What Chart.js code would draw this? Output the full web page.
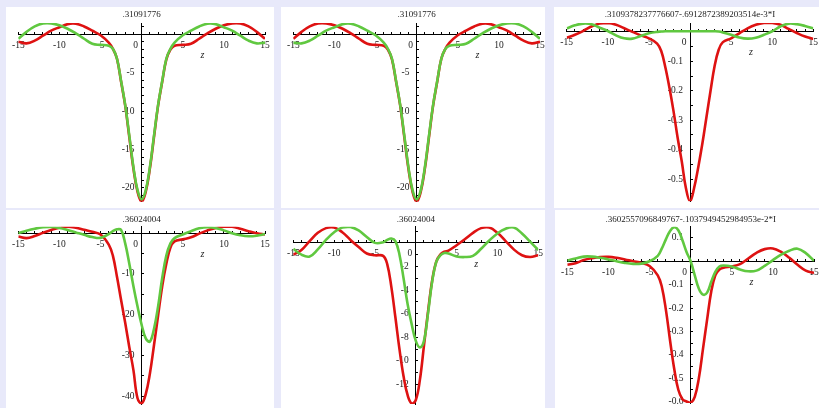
<!DOCTYPE html>
<html>
<head>
<meta charset="utf-8">
<script src="https://cdn.jsdelivr.net/npm/chart.js@4/dist/chart.umd.min.js"></script>
<style>
  html, body { margin: 0; padding: 0; background: #e8e9fa; }
  #grid { position: relative; width: 819px; height: 408px; overflow: hidden; background: #e8e9fa; }
  #grid canvas { position: absolute; background: #fff; }
</style>
</head>
<body>
<div id="grid"></div>
<script>
// sample points along z (shared by every panel)
const zValues = [-15, -14, -13, -12, -11, -10, -9, -8, -7, -6, -5, -4,
  -3.5, -3, -2.5, -2, -1.5, -1, -0.5, 0, 0.5, 1, 1.5, 2, 2.5, 3, 3.5,
  4, 5, 6, 7, 8, 9, 10, 11, 12, 13, 14, 15];

const titles = [
  '.31091776',
  '.31091776',
  '.3109378237776607-.6912872389203514e-3*I',
  '.36024004',
  '.36024004',
  '.3602557096849767-.1037949452984953e-2*I'
];

// panel 1 (top left)
const p1Red = [-1.0, -1.2, -0.85, -0.2, 0.45, 0.9, 1.3, 1.35, 1.0, 0.45, -0.15, -1.1,
  -1.9, -3.2, -6.2, -9.3, -13.4, -17.5, -20.5, -21.8, -20.5, -17.5, -13.4, -9.3, -6.2, -3.3, -2.0,
  -1.5, -1.4, -1.25, -0.6, 0.1, 0.7, 1.15, 1.4, 1.4, 1.0, 0.3, -0.6];
const p1Green = [-0.6, 0.3, 1.0, 1.4, 1.4, 1.15, 0.7, 0.1, -0.6, -1.25, -1.4, -1.5,
  -1.9, -3.2, -6.1, -9.2, -13.2, -17.3, -20.3, -21.5, -20.3, -17.3, -13.2, -9.2, -6.1, -3.2, -1.9,
  -1.1, -0.15, 0.45, 1.0, 1.35, 1.3, 0.9, 0.45, -0.2, -0.85, -1.2, -1.1];

// panel 2 (top middle)
const p2Red = [-0.6, 0.3, 1.0, 1.4, 1.4, 1.15, 0.7, 0.1, -0.6, -1.25, -1.4, -1.5,
  -2.0, -3.3, -6.2, -9.3, -13.4, -17.5, -20.5, -21.8, -20.5, -17.5, -13.4, -9.3, -6.2, -3.2, -1.9,
  -1.1, -0.15, 0.45, 1.0, 1.35, 1.3, 0.9, 0.45, -0.2, -0.85, -1.2, -1.0];
const p2Green = [-1.1, -1.2, -0.85, -0.2, 0.45, 0.9, 1.3, 1.35, 1.0, 0.45, -0.15, -1.1,
  -1.9, -3.2, -6.1, -9.2, -13.2, -17.3, -20.3, -21.5, -20.3, -17.3, -13.2, -9.2, -6.1, -3.2, -1.9,
  -1.5, -1.4, -1.25, -0.6, 0.1, 0.7, 1.15, 1.4, 1.4, 1.0, 0.3, -0.6];

// panel 3 (top right)
const p3Red = [-0.02, -0.01, 0.003, 0.018, 0.028, 0.03, 0.024, 0.012, 0.0, -0.012, -0.022, -0.04,
  -0.065, -0.12, -0.19, -0.27, -0.36, -0.44, -0.53, -0.575, -0.53, -0.46, -0.38, -0.29, -0.2, -0.115, -0.06,
  -0.035, -0.022, -0.005, 0.012, 0.024, 0.03, 0.03, 0.024, 0.01, -0.004, -0.016, -0.024];
const p3Green = [0.012, 0.022, 0.028, 0.026, 0.014, 0.003, -0.012, -0.022, -0.023, -0.014, -0.005, 0.0,
  0.001, 0.002, 0.002, 0.002, 0.002, 0.002, 0.002, 0.002, 0.002, 0.002, 0.002, 0.002, 0.002, 0.002, 0.001,
  -0.002, -0.01, -0.019, -0.023, -0.02, -0.01, 0.002, 0.018, 0.028, 0.026, 0.02, 0.012];

// panel 4 (bottom left)
const p4Red = [-0.8, -1.2, -0.7, 0.1, 0.8, 1.35, 1.6, 1.35, 0.85, 0.35, -0.3, -2.8,
  -5.5, -10.7, -16.4, -22.0, -28.0, -33.6, -40.5, -41.8, -39.5, -34.5, -27.5, -20.2, -13.0, -7.5, -3.5,
  -2.0, -1.5, -1.0, -0.1, 0.7, 1.3, 1.6, 1.6, 1.1, 0.5, 0.0, -0.3];
const p4Green = [0.0, 0.6, 1.1, 1.45, 1.55, 1.3, 0.8, 0.2, -0.4, -0.95, -1.15, -0.2,
  0.5, 0.95, 0.8, -2.5, -7.5, -13.0, -18.0, -22.5, -25.8, -26.6, -23.5, -18.0, -11.0, -5.5, -2.5,
  -1.2, -0.3, 0.5, 1.2, 1.5, 1.3, 0.7, 0.0, -0.5, -0.75, -0.6, -0.2];

// panel 5 (bottom middle)
const p5Red = [-1.0, -0.6, 0.15, 0.85, 1.25, 1.3, 0.9, 0.25, -0.35, -0.9, -1.05, -1.1,
  -1.8, -3.7, -6.3, -9.0, -11.3, -12.9, -13.6, -13.3, -11.6, -8.7, -5.8, -3.2, -1.6, -1.0, -0.75,
  -0.65, -0.2, 0.3, 0.85, 1.25, 1.3, 0.85, 0.15, -0.55, -1.05, -1.2, -1.05];
const p5Green = [-0.5, -1.0, -1.15, -0.55, 0.25, 0.9, 1.3, 1.35, 1.05, 0.5, 0.0, 0.05,
  0.25, 0.37, 0.15, -1.0, -3.0, -5.2, -6.9, -8.3, -8.85, -8.3, -5.95, -3.3, -1.6, -1.05, -0.85,
  -0.9, -1.15, -1.2, -1.1, -0.5, 0.2, 0.8, 1.2, 1.3, 0.8, 0.1, -0.6];

// panel 6 (bottom right)
const p6Red = [-0.015, -0.008, 0.005, 0.013, 0.018, 0.019, 0.015, 0.008, 0.0, -0.007, -0.02, -0.06,
  -0.11, -0.21, -0.34, -0.46, -0.55, -0.59, -0.6, -0.605, -0.58, -0.5, -0.375, -0.25, -0.13, -0.06, -0.035,
  -0.028, -0.022, -0.012, 0.012, 0.036, 0.052, 0.055, 0.04, 0.015, -0.015, -0.04, -0.05];
const p6Green = [0.003, 0.012, 0.02, 0.02, 0.015, 0.008, 0.0, -0.007, -0.011, -0.01, 0.0, 0.023,
  0.055, 0.095, 0.13, 0.146, 0.133, 0.09, 0.04, 0.0, -0.06, -0.118, -0.143, -0.134, -0.088, -0.045, -0.022,
  -0.018, -0.022, -0.035, -0.043, -0.04, -0.02, 0.005, 0.028, 0.045, 0.054, 0.035, 0.002];

// y axis ranges / tick steps per panel
const yMins   = [-21.8, -21.8, -0.575, -42, -13.65, -0.607];
const yMaxs   = [1.45, 1.45, 0.03, 1.6, 1.37, 0.148];
const yMinor  = [1, 1, 0.05, 5, 1, 0.05];
const yMajor  = [5, 5, 0.1, 10, 2, 0.1];

const reds   = [p1Red, p2Red, p3Red, p4Red, p5Red, p6Red];
const greens = [p1Green, p2Green, p3Green, p4Green, p5Green, p6Green];

// where each panel sits on the page
const boxes = [
  { left: 6,   top: 7,   width: 268, height: 201, pad: { left: 12.3, right: 9,   top: 0, bottom: 6.3 }, tpad: { top: 2.6, bottom: 2.6 } },
  { left: 281, top: 7,   width: 264, height: 201, pad: { left: 12.3, right: 5,   top: 0, bottom: 6.3 }, tpad: { top: 2.6, bottom: 2.6 } },
  { left: 554, top: 7,   width: 265, height: 201, pad: { left: 12.7, right: 5.7, top: 0, bottom: 6.7 }, tpad: { top: 2.6, bottom: 2.6 } },
  { left: 6,   top: 210, width: 268, height: 198, pad: { left: 12.3, right: 9,   top: 0, bottom: 3.7 }, tpad: { top: 3.9, bottom: 2.0 } },
  { left: 281, top: 210, width: 264, height: 198, pad: { left: 12.3, right: 6.7, top: 0, bottom: 3.9 }, tpad: { top: 3.9, bottom: 2.0 } },
  { left: 555, top: 210, width: 264, height: 198, pad: { left: 12.3, right: 5,   top: 0, bottom: 4.9 }, tpad: { top: 3.9, bottom: 2.0 } }
];

const RED = 'rgb(222, 18, 18)';
const GREEN = 'rgb(96, 200, 64)';
const TEXT = '#222';
const FONT = 'Liberation Serif';

const isMultiple = (v, step) => Math.abs(v / step - Math.round(v / step)) < 1e-6;

// axes cross at the origin, so they must not eat layout space
function flatten(scale) {
  if (scale.isHorizontal()) scale.height = 0; else scale.width = 0;
  scale.paddingLeft = scale.paddingRight = scale.paddingTop = scale.paddingBottom = 0;
}

const zLabel = {
  id: 'zLabel',
  afterDraw(chart) {
    const { ctx, scales: { x, y } } = chart;
    ctx.save();
    ctx.font = 'italic 10px "' + FONT + '"';
    ctx.fillStyle = TEXT;
    ctx.textAlign = 'center';
    ctx.textBaseline = 'middle';
    ctx.fillText('z', x.getPixelForValue(7.4), y.getPixelForValue(0) + 21);
    ctx.restore();
  }
};

const grid = document.getElementById('grid');

boxes.forEach((b, i) => {
  const canvas = document.createElement('canvas');
  canvas.width = b.width;
  canvas.height = b.height;
  canvas.style.left = b.left + 'px';
  canvas.style.top = b.top + 'px';
  grid.appendChild(canvas);

  const major = yMajor[i];

  new Chart(canvas, {
    type: 'line',
    data: {
      datasets: [
        { label: 'red', data: zValues.map((z, k) => ({ x: z, y: reds[i][k] })), borderColor: RED, order: 2 },
        { label: 'green', data: zValues.map((z, k) => ({ x: z, y: greens[i][k] })), borderColor: GREEN, order: 1 }
      ]
    },
    options: {
      responsive: false,
      animation: false,
      layout: { padding: b.pad },
      elements: {
        point: { radius: 0 },
        line: { borderWidth: 2.6, tension: 0.4, fill: false }
      },
      plugins: {
        legend: { display: false },
        tooltip: { enabled: false },
        title: {
          display: true,
          text: titles[i],
          color: TEXT,
          font: { family: FONT, size: 9, weight: 'normal' },
          padding: b.tpad
        }
      },
      scales: {
        x: {
          type: 'linear',
          min: -15,
          max: 15,
          position: { y: 0 },
          afterFit: flatten,
          grid: { drawOnChartArea: false, tickLength: -3, color: '#000' },
          border: { color: '#000', width: 1 },
          ticks: {
            stepSize: 1,
            includeBounds: false,
            autoSkip: false,
            minRotation: 0,
            maxRotation: 0,
            padding: 8.3,
            color: TEXT,
            font: { family: FONT, size: 9.5 },
            callback: v => {
              if (!isMultiple(v, 5)) return '';
              return v === 0 ? '0     ' : String(v);   // Maple puts the 0 left of the y axis
            }
          }
        },
        y: {
          type: 'linear',
          min: yMins[i],
          max: yMaxs[i],
          position: { x: 0 },
          afterFit: flatten,
          grid: { drawOnChartArea: false, tickLength: -3, color: '#000' },
          border: { color: '#000', width: 1 },
          ticks: {
            stepSize: yMinor[i],
            includeBounds: false,
            autoSkip: false,
            padding: 9,
            color: TEXT,
            font: { family: FONT, size: 9.5 },
            callback: v => {
              if (v === 0 || !isMultiple(v, major)) return '';
              // trailing spaces keep the right-aligned label clear of the axis line
              return (major < 1 ? v.toFixed(1) : String(v)) + '   ';
            }
          }
        }
      }
    },
    plugins: [zLabel]
  });
});
</script>
</body>
</html>
